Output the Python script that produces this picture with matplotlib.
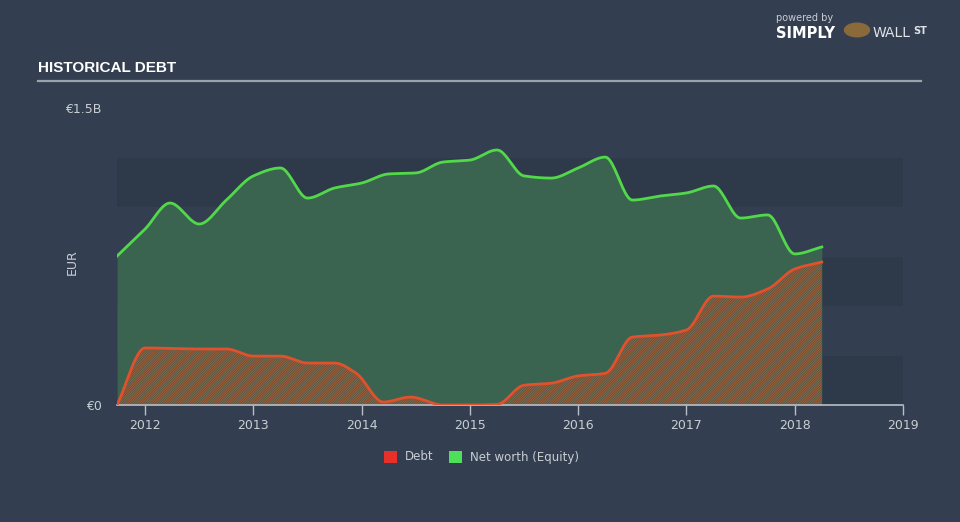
import numpy as np
import matplotlib
matplotlib.use("Agg")
import matplotlib.pyplot as plt
from matplotlib.patches import Rectangle

# data (year, EUR billions)
years = [2011.74, 2012.0, 2012.23, 2012.5, 2012.75, 2013.0, 2013.25, 2013.5, 2013.75,
         2014.0, 2014.25, 2014.5, 2014.75, 2015.0, 2015.25, 2015.5, 2015.75, 2016.0,
         2016.25, 2016.5, 2016.75, 2017.0, 2017.25, 2017.5, 2017.75, 2018.0, 2018.25]
networth = [0.752, 0.889, 1.02, 0.914, 1.035, 1.157, 1.197, 1.045, 1.096,
            1.121, 1.167, 1.172, 1.227, 1.237, 1.288, 1.157, 1.146, 1.197,
            1.252, 1.035, 1.055, 1.071, 1.106, 0.944, 0.96, 0.763, 0.798]

debt_years = [2011.74, 2012.0, 2012.5, 2012.75, 2013.0, 2013.25, 2013.5, 2013.75, 2013.95,
              2014.2, 2014.45, 2014.75, 2015.0, 2015.25, 2015.5, 2015.75, 2016.0,
              2016.25, 2016.5, 2016.75, 2017.0, 2017.25, 2017.5, 2017.75, 2018.0, 2018.25]
debt = [0.0, 0.288, 0.283, 0.283, 0.247, 0.247, 0.212, 0.212, 0.16,
        0.015, 0.04, 0.0, 0.0, 0.003, 0.10, 0.11, 0.147,
        0.16, 0.343, 0.353, 0.379, 0.55, 0.545, 0.586, 0.687, 0.722]

xticks = [2012, 2013, 2014, 2015, 2016, 2017, 2018, 2019]

BG = "#333f50"
BAND = "#2e3a4a"
GREEN = "#52d94a"
GREEN_FILL = "#3a6350"
RED = "#e0512e"
TXT = "#c9ced4"


def pchip(x, y, n=600):
    # monotone cubic curve through the points, like the original smooth line
    x = np.asarray(x, float)
    y = np.asarray(y, float)
    h = np.diff(x)
    d = np.diff(y) / h
    m = np.zeros_like(y)
    for i in range(1, len(y) - 1):
        if d[i - 1] * d[i] > 0:
            w1 = 2 * h[i] + h[i - 1]
            w2 = h[i] + 2 * h[i - 1]
            m[i] = (w1 + w2) / (w1 / d[i - 1] + w2 / d[i])
    m[0] = d[0]
    m[-1] = d[-1]
    xs = np.linspace(x[0], x[-1], n)
    idx = np.clip(np.searchsorted(x, xs) - 1, 0, len(x) - 2)
    t = (xs - x[idx]) / h[idx]
    h00 = 2 * t**3 - 3 * t**2 + 1
    h10 = t**3 - 2 * t**2 + t
    h01 = -2 * t**3 + 3 * t**2
    h11 = t**3 - t**2
    ys = h00 * y[idx] + h10 * h[idx] * m[idx] + h01 * y[idx + 1] + h11 * h[idx] * m[idx + 1]
    return xs, ys


plt.rcParams['hatch.linewidth'] = 0.6

fig = plt.figure(figsize=(9.6, 5.22), dpi=100, facecolor=BG)
ax = fig.add_axes([117 / 960, 117 / 522, 786 / 960, 297 / 522])
ax.set_facecolor(BG)
ax.set_xlim(2011.74, 2019.0)
ax.set_ylim(0, 1.5)

# horizontal bands
for lo in [0.0, 0.5, 1.0]:
    ax.axhspan(lo, lo + 0.25, color=BAND, lw=0, zorder=0)

nx, ny = pchip(years, networth)
ax.fill_between(nx, 0, ny, color=GREEN_FILL, lw=0, zorder=1)
ax.plot(nx, ny, color=GREEN, lw=2, zorder=4)

dx, dy = pchip(debt_years, debt)
dy = np.clip(dy, 0, None)
ax.fill_between(dx, 0, dy, facecolor="#4c5744", edgecolor="#a9603c", hatch="/" * 14, lw=0, zorder=2)
ax.plot(dx, dy, color=RED, lw=2, zorder=5)

for s in ["top", "right", "left"]:
    ax.spines[s].set_visible(False)
ax.spines["bottom"].set_color("#b8bec6")
ax.spines["bottom"].set_linewidth(1.2)
ax.set_xticks(xticks)
ax.set_xticklabels([str(t) for t in xticks])
ax.tick_params(axis="x", colors="#b8bec6", length=7, width=1, labelcolor=TXT, labelsize=9, pad=3)
ax.set_yticks([0, 1.5])
ax.set_yticklabels(["€0", "€1.5B"])
ax.tick_params(axis="y", length=0, labelcolor=TXT, labelsize=9, pad=11)
fig.text(72 / 960, 1 - 262 / 522, "EUR", color=TXT, fontsize=9, rotation=90, ha="center", va="center")

# title and rule
fig.text(38 / 960, 1 - 68 / 522, "HISTORICAL DEBT", color="white", fontsize=11,
         fontweight="bold", family="Liberation Sans", va="center")
fig.add_artist(plt.Line2D([38 / 960, 921 / 960], [1 - 81 / 522] * 2, color="#9aa2ab", lw=1.6))

# logo text
fig.text(776 / 960, 1 - 18 / 522, "powered by", color="#c9ced4", fontsize=7, va="center")
fig.text(776 / 960, 1 - 33 / 522, "SIMPLY", color="white", fontsize=10.5, fontweight="bold", va="center")
fig.text(873 / 960, 1 - 33 / 522, "WALL", color="#dfe3e7", fontsize=10, va="center")
fig.text(913 / 960, 1 - 31 / 522, "ST", color="#dfe3e7", fontsize=7, fontweight="bold", va="center")
fig.add_artist(plt.Circle((857 / 960, 1 - 30 / 522), 0.013, transform=fig.transFigure,
                          color="#8a6a3a"))

# legend
fig.add_artist(Rectangle((384 / 960, 1 - 463 / 522), 13 / 960, 12 / 522, transform=fig.transFigure,
                         color="#e8302a", lw=0))
fig.text(405 / 960, 1 - 457 / 522, "Debt", color=TXT, fontsize=8.5, va="center")
fig.add_artist(Rectangle((449 / 960, 1 - 463 / 522), 13 / 960, 12 / 522, transform=fig.transFigure,
                         color="#4fe05a", lw=0))
fig.text(470 / 960, 1 - 457 / 522, "Net worth (Equity)", color=TXT, fontsize=8.5, va="center")

fig.savefig("out.png", dpi=100, facecolor=BG)
